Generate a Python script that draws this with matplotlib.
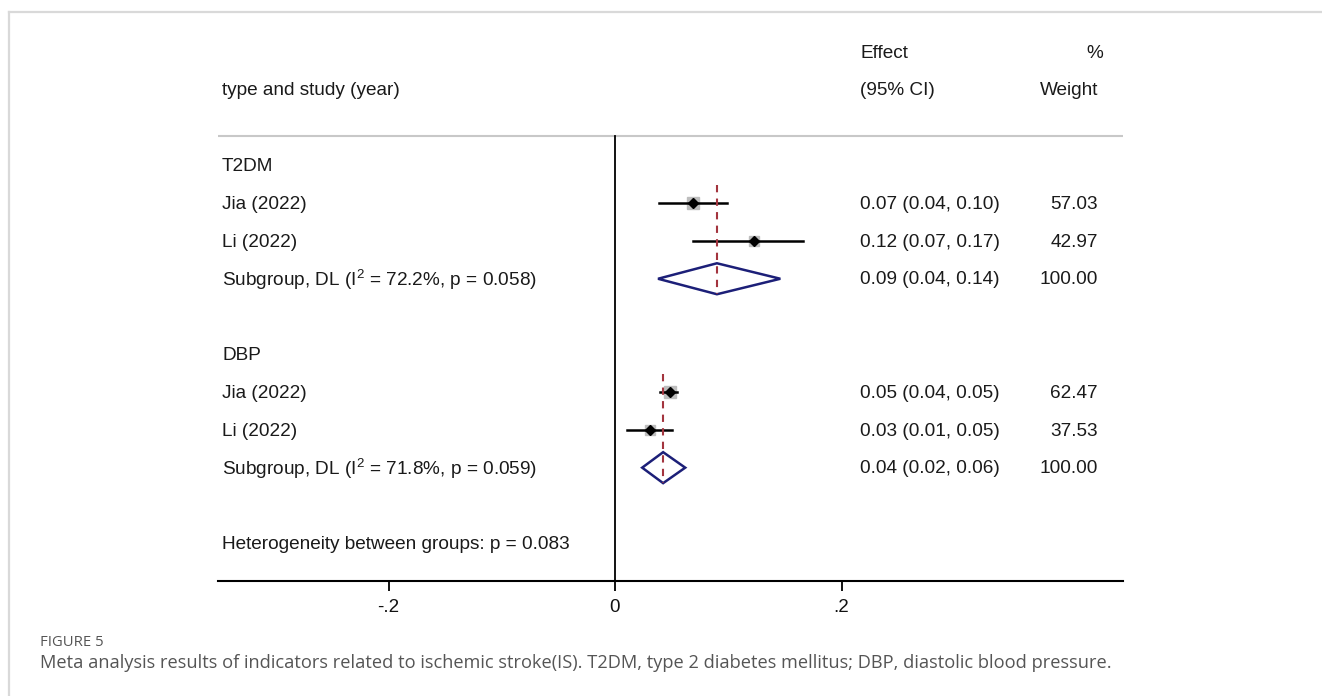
import matplotlib
matplotlib.use("Agg")
import matplotlib.pyplot as plt
from matplotlib.lines import Line2D
import numpy as np

plt.rcParams['font.family'] = ['Liberation Sans', 'DejaVu Sans']
plt.rcParams['mathtext.fontset'] = 'custom'
plt.rcParams['mathtext.rm'] = 'Liberation Sans'
plt.rcParams['mathtext.default'] = 'regular'

# ---- data ----
groups = ["T2DM", "DBP"]
studies = [["Jia (2022)", "Li (2022)"], ["Jia (2022)", "Li (2022)"]]
effects = [[0.069, 0.123], [0.0485, 0.031]]
ci_low = [[0.039, 0.069], [0.040, 0.011]]
ci_high = [[0.099, 0.166], [0.055, 0.050]]
weights = [[57.03, 42.97], [62.47, 37.53]]
effect_text = [["0.07 (0.04, 0.10)", "0.12 (0.07, 0.17)"],
               ["0.05 (0.04, 0.05)", "0.03 (0.01, 0.05)"]]
weight_text = [["57.03", "42.97"], ["62.47", "37.53"]]
sub_effect = [0.090, 0.0425]
sub_low = [0.038, 0.024]
sub_high = [0.146, 0.062]
sub_label = ["Subgroup, DL (I$^{2}$ = 72.2%, p = 0.058)",
             "Subgroup, DL (I$^{2}$ = 71.8%, p = 0.059)"]
sub_effect_text = ["0.09 (0.04, 0.14)", "0.04 (0.02, 0.06)"]
sub_weight_text = ["100.00", "100.00"]
het_text = "Heterogeneity between groups: p = 0.083"
xticks = [-0.2, 0.0, 0.2]
xtick_labels = ["-.2", "0", ".2"]

W, H = 1322, 696
fig = plt.figure(figsize=(W / 100, H / 100), dpi=100)

# axes: pixel x 218..1123, pixel y 14.3..581
x0_px, x1_px = 218, 1123
zero_px, scale = 615, 1132.5
xlim = ((x0_px - zero_px) / scale, (x1_px - zero_px) / scale)
ax = fig.add_axes([x0_px / W, (H - 581) / H, (x1_px - x0_px) / W, (581 - 14.3) / H])
ax.set_xlim(*xlim)
ax.set_ylim(14, -1)
for s in ["top", "right", "left"]:
    ax.spines[s].set_visible(False)
ax.spines["bottom"].set_linewidth(1.5)
ax.set_yticks([])
ax.set_xticks(xticks)
ax.set_xticklabels(xtick_labels, fontsize=13.5)
ax.tick_params(axis="x", direction="out", length=7, width=1.4, pad=6, colors="#111")

txt_color = "#1a1a1a"
fs = 13.7
tr = ax.get_yaxis_transform()  # x axes-fraction, y data

def xf(px):
    return (px - x0_px) / (x1_px - x0_px)

lab_x = xf(222)
eff_x = xf(860)
wt_x = xf(1098)
dy_txt = 0.03  # small downward nudge of text baseline

# headers
ax.text(eff_x, 0 + dy_txt, "Effect", transform=tr, ha="left", va="center", fontsize=fs, color=txt_color)
ax.text(xf(1103), 0 + dy_txt, "%", transform=tr, ha="right", va="center", fontsize=fs, color=txt_color)
ax.text(lab_x, 1 + dy_txt, "type and study (year)", transform=tr, ha="left", va="center", fontsize=fs, color=txt_color)
ax.text(eff_x, 1 + dy_txt, "(95% CI)", transform=tr, ha="left", va="center", fontsize=fs, color=txt_color)
ax.text(wt_x, 1 + dy_txt, "Weight", transform=tr, ha="right", va="center", fontsize=fs, color=txt_color)
ax.axhline(2.23, color="#c8c8c8", lw=1.5)

# zero line
ax.plot([0, 0], [2.23, 14], color="black", lw=1.3)

row = 3
for g in range(len(groups)):
    ax.text(lab_x, row + dy_txt, groups[g], transform=tr, ha="left", va="center", fontsize=fs, color=txt_color)
    first = row + 1
    for i in range(len(studies[g])):
        r = row + 1 + i
        ax.text(lab_x, r + dy_txt, studies[g][i], transform=tr, ha="left", va="center", fontsize=fs, color=txt_color)
        ax.plot([ci_low[g][i], ci_high[g][i]], [r, r], color="black", lw=1.8, zorder=3)
        side_px = 1.62 * np.sqrt(weights[g][i])
        ax.plot(effects[g][i], r, marker="s", ms=side_px * 0.72, color="#bdbdbd",
                mec="#bdbdbd", zorder=2, ls="none")
        ax.plot(effects[g][i], r, marker="D", ms=5.2, color="black", zorder=4, ls="none")
        ax.text(eff_x, r + dy_txt, effect_text[g][i], transform=tr, ha="left", va="center", fontsize=fs, color=txt_color)
        ax.text(wt_x, r + dy_txt, weight_text[g][i], transform=tr, ha="right", va="center", fontsize=fs, color=txt_color)
    sr = row + 1 + len(studies[g])
    ax.text(lab_x, sr + dy_txt, sub_label[g], transform=tr, ha="left", va="center", fontsize=fs, color=txt_color)
    hh = 0.41
    dx = [sub_low[g], sub_effect[g], sub_high[g], sub_effect[g], sub_low[g]]
    dy = [sr, sr - hh, sr, sr + hh, sr]
    ax.fill(dx, dy, facecolor="white", edgecolor="#1c1f78", lw=1.8, zorder=3)
    ax.plot([sub_effect[g], sub_effect[g]], [first - 0.48, sr + hh], color="#a3343e",
            lw=1.5, ls=(0, (3.5, 3)), zorder=5)
    ax.text(eff_x, sr + dy_txt, sub_effect_text[g], transform=tr, ha="left", va="center", fontsize=fs, color=txt_color)
    ax.text(wt_x, sr + dy_txt, sub_weight_text[g], transform=tr, ha="right", va="center", fontsize=fs, color=txt_color)
    row = sr + 2

ax.text(lab_x, 13 + dy_txt, het_text, transform=tr, ha="left", va="center", fontsize=fs, color=txt_color)

# frame lines
fig.add_artist(Line2D([9 / W, 1], [1 - 12 / H, 1 - 12 / H], color="#d9d9d9", lw=1.6))
fig.add_artist(Line2D([9 / W, 9 / W], [0, 1 - 12 / H], color="#d9d9d9", lw=1.6))

# caption
fig.text(40 / W, 1 - 643 / H, "FIGURE 5", fontsize=10.7, color="#555555", ha="left", va="center",
         family=["Open Sans", "DejaVu Sans"])
fig.text(40 / W, 1 - 663 / H,
         "Meta analysis results of indicators related to ischemic stroke(IS). T2DM, type 2 diabetes mellitus; DBP, diastolic blood pressure.",
         fontsize=13.15, color="#555555", ha="left", va="center", family=["Open Sans", "DejaVu Sans"])

fig.savefig("out.png", dpi=100)
